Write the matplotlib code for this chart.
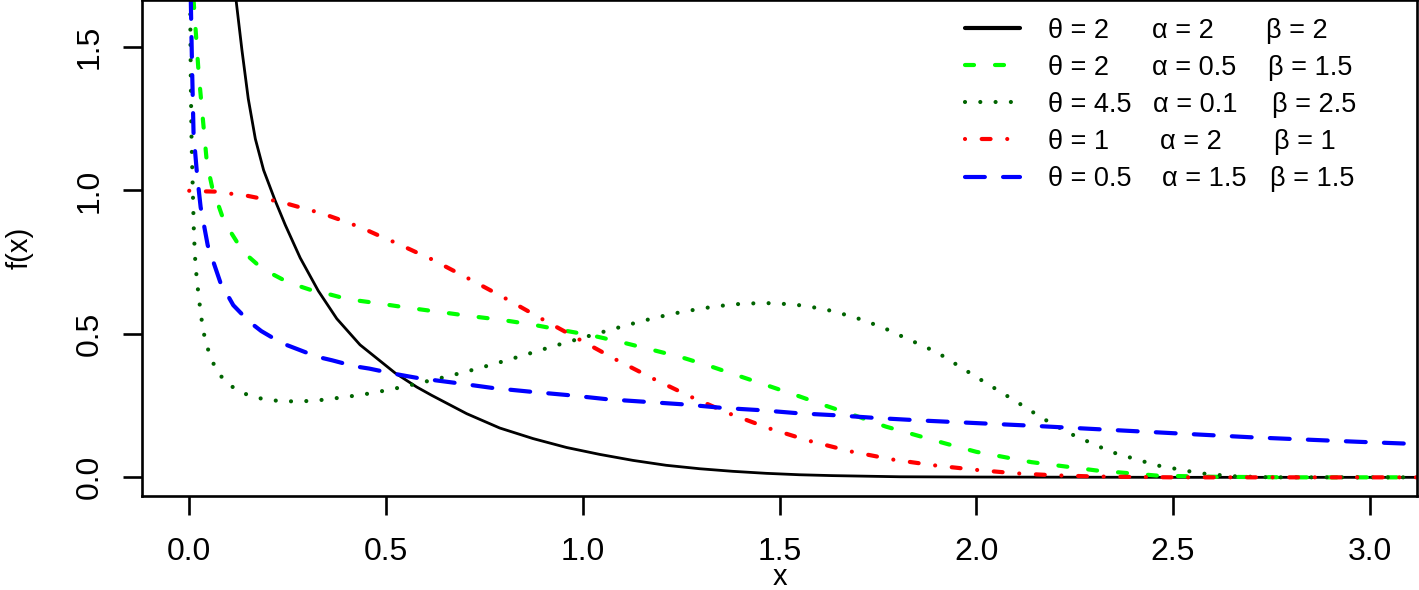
import matplotlib
matplotlib.use("Agg")
from matplotlib import pyplot as plt
from matplotlib.lines import Line2D

# values, one (x, f(x)) list per curve
x_black = [0.100, 0.119, 0.134, 0.150, 0.168, 0.189, 0.218, 0.244, 0.282, 0.328, 0.375,
           0.434, 0.523, 0.578, 0.616, 0.705, 0.789, 0.874, 0.959, 1.043, 1.128, 1.212,
           1.297, 1.381, 1.466, 1.551, 1.635, 1.805, 2.000, 2.500, 3.200]
y_black = [1.880, 1.664, 1.489, 1.320, 1.180, 1.071, 0.966, 0.880, 0.765, 0.650, 0.553,
           0.462, 0.364, 0.315, 0.286, 0.222, 0.172, 0.135, 0.104, 0.080, 0.059, 0.042,
           0.030, 0.021, 0.014, 0.009, 0.006, 0.002, 0.001, 0.000, 0.000]

x_green = [0.008, 0.011, 0.024, 0.045, 0.058, 0.069, 0.083, 0.100, 0.121, 0.142, 0.176,
           0.201, 0.244, 0.272, 0.316, 0.348, 0.392, 0.424, 0.468, 0.502, 0.557, 0.639,
           0.715, 0.793, 0.870, 0.948, 1.022, 1.099, 1.175, 1.250, 1.325, 1.398, 1.474,
           1.547, 1.619, 1.695, 1.770, 1.919, 2.000, 2.140, 2.305, 2.460, 2.600, 2.800, 3.200]
y_green = [1.900, 1.664, 1.408, 1.095, 1.013, 0.969, 0.914, 0.867, 0.821, 0.780, 0.739,
           0.716, 0.685, 0.670, 0.650, 0.641, 0.625, 0.617, 0.609, 0.602, 0.591, 0.576,
           0.562, 0.549, 0.533, 0.513, 0.495, 0.471, 0.445, 0.419, 0.387, 0.353, 0.318,
           0.284, 0.249, 0.214, 0.177, 0.119, 0.089, 0.053, 0.024, 0.006, 0.002, 0.000, 0.000]

x_dkgreen = [0.002, 0.003, 0.004, 0.005, 0.006, 0.008, 0.009, 0.010, 0.011, 0.012,
             0.014, 0.016, 0.020, 0.024, 0.029, 0.034, 0.042, 0.054, 0.070, 0.095,
             0.128, 0.163, 0.201, 0.240, 0.279, 0.318, 0.357, 0.395, 0.434, 0.473,
             0.510, 0.549, 0.585, 0.624, 0.700, 0.777, 0.851, 0.925, 1.001, 1.077,
             1.151, 1.227, 1.303, 1.380, 1.458, 1.536, 1.613, 1.689, 1.762, 1.796,
             1.900, 2.000, 2.103, 2.167, 2.236, 2.342, 2.458, 2.569, 2.650, 2.750, 3.200]
y_dkgreen = [1.900, 1.547, 1.384, 1.273, 1.168, 1.059, 1.007, 0.952, 0.899, 0.847,
             0.792, 0.737, 0.684, 0.630, 0.577, 0.523, 0.471, 0.420, 0.371, 0.329,
             0.299, 0.280, 0.270, 0.265, 0.265, 0.267, 0.273, 0.280, 0.287, 0.296,
             0.306, 0.317, 0.329, 0.341, 0.367, 0.396, 0.426, 0.457, 0.487, 0.517,
             0.545, 0.570, 0.589, 0.603, 0.608, 0.603, 0.587, 0.559, 0.523, 0.501,
             0.436, 0.350, 0.263, 0.207, 0.154, 0.089, 0.042, 0.014, 0.004, 0.000, 0.000]

x_red = [0.000, 0.035, 0.070, 0.104, 0.142, 0.175, 0.211, 0.246, 0.277, 0.314, 0.350,
         0.381, 0.415, 0.451, 0.480, 0.514, 0.548, 0.581, 0.612, 0.707, 0.802, 0.895,
         0.992, 1.085, 1.179, 1.276, 1.373, 1.475, 1.576, 1.682, 1.788, 1.892, 2.000,
         2.100, 2.200, 2.300, 2.500, 3.200]
y_red = [0.999, 0.997, 0.996, 0.989, 0.983, 0.974, 0.966, 0.955, 0.943, 0.929, 0.914,
         0.899, 0.882, 0.862, 0.844, 0.824, 0.803, 0.782, 0.763, 0.695, 0.625, 0.553,
         0.480, 0.410, 0.344, 0.280, 0.222, 0.170, 0.127, 0.090, 0.062, 0.042, 0.026,
         0.014, 0.007, 0.003, 0.000, 0.000]

x_blue = [0.002, 0.004, 0.007, 0.011, 0.020, 0.029, 0.047, 0.079, 0.112, 0.153, 0.183,
          0.235, 0.271, 0.326, 0.363, 0.421, 0.458, 0.517, 0.553, 0.582, 0.678, 0.774,
          0.871, 0.968, 1.064, 1.162, 1.260, 1.356, 1.453, 1.551, 1.648, 1.745, 1.863,
          2.140, 2.416, 2.693, 2.969, 3.200]
y_blue = [1.900, 1.664, 1.443, 1.199, 1.054, 0.942, 0.809, 0.680, 0.600, 0.542, 0.510,
          0.468, 0.449, 0.420, 0.408, 0.387, 0.379, 0.362, 0.353, 0.346, 0.329, 0.311,
          0.298, 0.286, 0.272, 0.263, 0.254, 0.242, 0.234, 0.223, 0.216, 0.207, 0.198,
          0.180, 0.160, 0.140, 0.124, 0.112]

theta_labels = ["\u03b8 = 2", "\u03b8 = 2", "\u03b8 = 4.5", "\u03b8 = 1", "\u03b8 = 0.5"]
alpha_labels = ["\u03b1 = 2", "\u03b1 = 0.5", "\u03b1 = 0.1", "\u03b1 = 2", "\u03b1 = 1.5"]
beta_labels = ["\u03b2 = 2", "\u03b2 = 1.5", "\u03b2 = 2.5", "\u03b2 = 1", "\u03b2 = 1.5"]

x_ticks = [0.0, 0.5, 1.0, 1.5, 2.0, 2.5, 3.0]
y_ticks = [0.0, 0.5, 1.0, 1.5]

plt.rcParams['font.family'] = ['Liberation Sans', 'DejaVu Sans']
plt.rcParams['lines.scale_dashes'] = False

W, H = 1419, 590
fig = plt.figure(figsize=(W / 100, H / 100), dpi=100)
ax = fig.add_axes([142 / W, (H - 495.7) / H, 1275 / W, 495.7 / H])

# colour, width (pt), dash pattern (pt) -- R lty 1..5 look
styles = [("black", 2.0, None),
          ("#00FF00", 3.0, (6.5, 15.1)),
          ("#006400", 3.0, (0.01, 11.0)),
          ("#FF0000", 3.0, (0.01, 12.0, 6.4, 12.0)),
          ("#0000FF", 3.0, (14.3, 13.1))]
curves = [(x_black, y_black), (x_green, y_green), (x_dkgreen, y_dkgreen),
          (x_red, y_red), (x_blue, y_blue)]

handles = []
for (xs, ys), (col, lw, dash) in zip(curves, styles):
    kw = dict(color=col, solid_capstyle='round', dash_capstyle='round')
    if dash is not None:
        kw['dashes'] = dash
    ax.plot(xs, ys, lw=lw, **kw)
    handles.append(Line2D([], [], lw=3.0, **kw))

ax.set_xlim(-0.12, 3.12)
ax.set_ylim(-0.064, 1.664)
ax.set_xticks(x_ticks)
ax.set_xticklabels(["%.1f" % t for t in x_ticks])
ax.set_yticks(y_ticks)
ax.set_yticklabels(["%.1f" % t for t in y_ticks], rotation=90, va='center')
ax.tick_params(axis='both', direction='out', length=13.7, width=1.9, labelsize=23)
ax.tick_params(axis='x', pad=16)
ax.tick_params(axis='y', pad=13)
for sp in ax.spines.values():
    sp.set_linewidth(1.9)

ax.set_xlabel("x", fontsize=21)
ax.set_ylabel("f(x)", fontsize=21)
ax.xaxis.set_label_coords(0.5, -0.136)
ax.yaxis.set_label_coords(-0.0847, 0.5)

fs = 19.5
fpx = fs * 100 / 72
leg = ax.legend(handles, theta_labels, loc='upper left',
                bbox_to_anchor=((965 - 142) / 1275, 0.9645), frameon=False,
                fontsize=fs, handlelength=55 / fpx, handletextpad=28 / fpx,
                labelspacing=0.41, borderpad=0, borderaxespad=0)

# alpha and beta columns share each legend row
alpha_px = [1152, 1152, 1153, 1160, 1162]
beta_px = [1266, 1268, 1272, 1274, 1270]
fig.canvas.draw()
renderer = fig.canvas.get_renderer()
for txt, a_lab, b_lab, a_x, b_x in zip(leg.get_texts(), alpha_labels, beta_labels, alpha_px, beta_px):
    bb = txt.get_window_extent(renderer)
    fig.text(a_x / W, bb.y0 / H, a_lab, fontsize=fs, ha='left', va='bottom')
    fig.text(b_x / W, bb.y0 / H, b_lab, fontsize=fs, ha='left', va='bottom')

fig.savefig("out.png", dpi=100)
